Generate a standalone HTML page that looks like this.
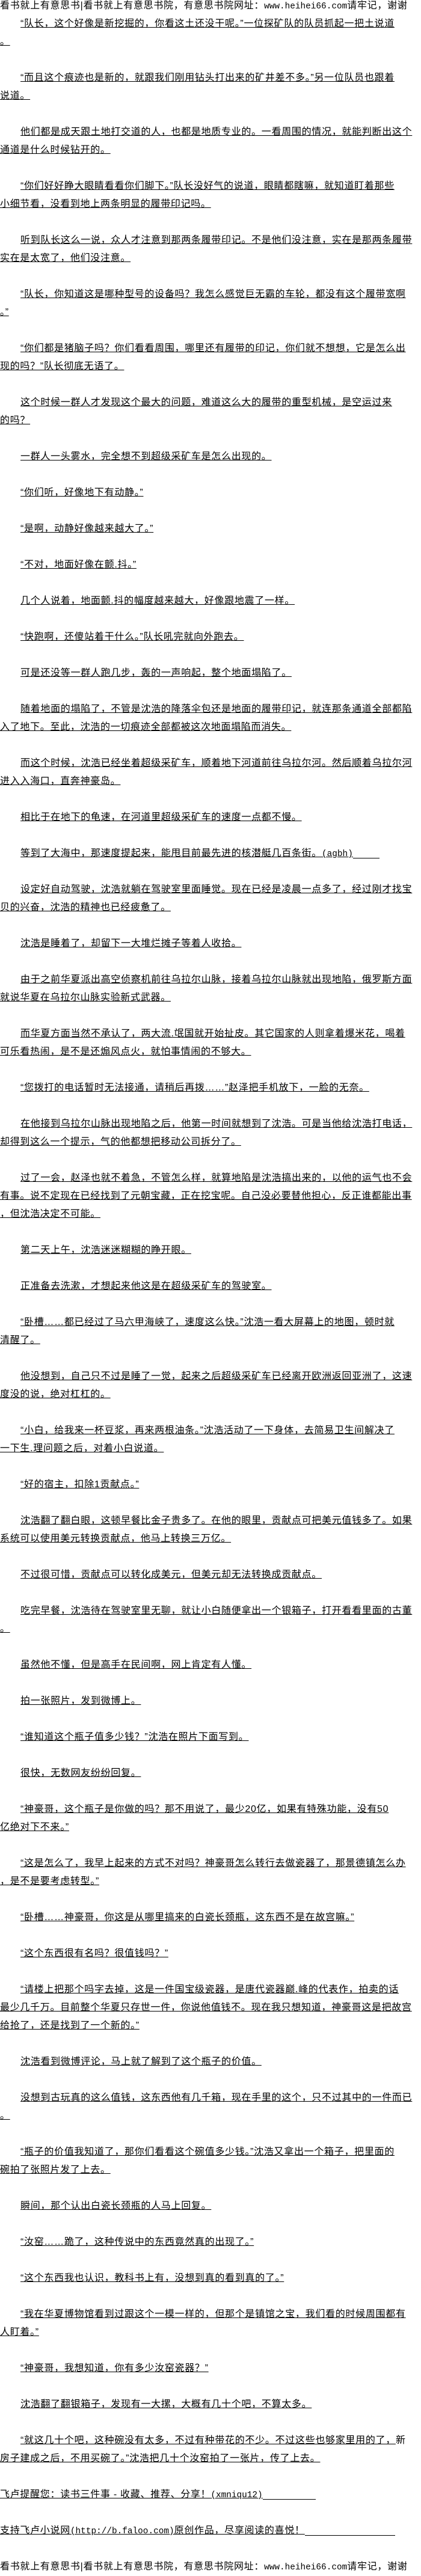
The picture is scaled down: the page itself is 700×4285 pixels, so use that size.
<!DOCTYPE html>
<html><head><meta charset="utf-8">
<style>
html,body{margin:0;padding:0;background:#fff;}
body{width:700px;height:4280px;overflow:hidden;position:relative;}
#c{position:absolute;top:-5px;left:0;width:700px;}
#c div{height:30px;line-height:30px;white-space:nowrap;font-size:16px;letter-spacing:0.7px;color:#000;
font-family:"Liberation Sans","Noto Sans CJK SC","WenQuanYi Zen Hei",sans-serif;overflow:hidden;}
#c div span{text-decoration:underline;}
#c div.i{padding-left:34px;}
.m{font-family:"Liberation Mono",monospace;font-size:14.4px;letter-spacing:0;}
.ext{display:inline-block;height:1px;background:#000;vertical-align:-4px;}
</style></head><body><div id="c">
<div>看书就上有意思书|看书就上有意思书院，有意思书院网址：<span class="m" style="text-decoration:none">www.heihei66.com</span>请牢记，谢谢</div>
<div class="i"><span>“队长，这个好像是新挖掘的，你看这土还没干呢。”一位探矿队的队员抓起一把土说道</span></div>
<div><span>。</span></div>
<div></div>
<div class="i"><span>“而且这个痕迹也是新的，就跟我们刚用钻头打出来的矿井差不多。”另一位队员也跟着</span></div>
<div><span>说道。</span></div>
<div></div>
<div class="i"><span>他们都是成天跟土地打交道的人，也都是地质专业的。一看周围的情况，就能判断出这个</span></div>
<div><span>通道是什么时候钻开的。</span></div>
<div></div>
<div class="i"><span>“你们好好睁大眼睛看看你们脚下。”队长没好气的说道，眼睛都瞎嘛，就知道盯着那些</span></div>
<div><span>小细节看，没看到地上两条明显的履带印记吗。</span></div>
<div></div>
<div class="i"><span>听到队长这么一说，众人才注意到那两条履带印记。不是他们没注意，实在是那两条履带</span></div>
<div><span>实在是太宽了，他们没注意。</span></div>
<div></div>
<div class="i"><span>“队长，你知道这是哪种型号的设备吗？我怎么感觉巨无霸的车轮，都没有这个履带宽啊</span></div>
<div><span>。”</span></div>
<div></div>
<div class="i"><span>“你们都是猪脑子吗？你们看看周围，哪里还有履带的印记，你们就不想想，它是怎么出</span></div>
<div><span>现的吗？”队长彻底无语了。</span></div>
<div></div>
<div class="i"><span>这个时候一群人才发现这个最大的问题，难道这么大的履带的重型机械，是空运过来</span></div>
<div><span>的吗？</span></div>
<div></div>
<div class="i"><span>一群人一头雾水，完全想不到超级采矿车是怎么出现的。</span></div>
<div></div>
<div class="i"><span>“你们听，好像地下有动静。”</span></div>
<div></div>
<div class="i"><span>“是啊，动静好像越来越大了。”</span></div>
<div></div>
<div class="i"><span>“不对，地面好像在颤.抖。”</span></div>
<div></div>
<div class="i"><span>几个人说着，地面颤.抖的幅度越来越大，好像跟地震了一样。</span></div>
<div></div>
<div class="i"><span>“快跑啊，还傻站着干什么。”队长吼完就向外跑去。</span></div>
<div></div>
<div class="i"><span>可是还没等一群人跑几步，轰的一声响起，整个地面塌陷了。</span></div>
<div></div>
<div class="i"><span>随着地面的塌陷了，不管是沈浩的降落伞包还是地面的履带印记，就连那条通道全部都陷</span></div>
<div><span>入了地下。至此，沈浩的一切痕迹全部都被这次地面塌陷而消失。</span></div>
<div></div>
<div class="i"><span>而这个时候，沈浩已经坐着超级采矿车，顺着地下河道前往乌拉尔河。然后顺着乌拉尔河</span></div>
<div><span>进入入海口，直奔神豪岛。</span></div>
<div></div>
<div class="i"><span>相比于在地下的龟速，在河道里超级采矿车的速度一点都不慢。</span></div>
<div></div>
<div class="i"><span>等到了大海中，那速度提起来，能甩目前最先进的核潜艇几百条街。<span class="m">(agbh)</span></span><span class="ext" style="width:44px"></span></div>
<div></div>
<div class="i"><span>设定好自动驾驶，沈浩就躺在驾驶室里面睡觉。现在已经是凌晨一点多了，经过刚才找宝</span></div>
<div><span>贝的兴奋，沈浩的精神也已经疲惫了。</span></div>
<div></div>
<div class="i"><span>沈浩是睡着了，却留下一大堆烂摊子等着人收拾。</span></div>
<div></div>
<div class="i"><span>由于之前华夏派出高空侦察机前往乌拉尔山脉，接着乌拉尔山脉就出现地陷，俄罗斯方面</span></div>
<div><span>就说华夏在乌拉尔山脉实验新式武器。</span></div>
<div></div>
<div class="i"><span>而华夏方面当然不承认了，两大流.氓国就开始扯皮。其它国家的人则拿着爆米花，喝着</span></div>
<div><span>可乐看热闹，是不是还煽风点火，就怕事情闹的不够大。</span></div>
<div></div>
<div class="i"><span>“您拨打的电话暂时无法接通，请稍后再拨……”赵泽把手机放下，一脸的无奈。</span></div>
<div></div>
<div class="i"><span>在他接到乌拉尔山脉出现地陷之后，他第一时间就想到了沈浩。可是当他给沈浩打电话，</span></div>
<div><span>却得到这么一个提示，气的他都想把移动公司拆分了。</span></div>
<div></div>
<div class="i"><span>过了一会，赵泽也就不着急，不管怎么样，就算地陷是沈浩搞出来的，以他的运气也不会</span></div>
<div><span>有事。说不定现在已经找到了元朝宝藏，正在挖宝呢。自己没必要替他担心，反正谁都能出事</span></div>
<div><span>，但沈浩决定不可能。</span></div>
<div></div>
<div class="i"><span>第二天上午，沈浩迷迷糊糊的睁开眼。</span></div>
<div></div>
<div class="i"><span>正准备去洗漱，才想起来他这是在超级采矿车的驾驶室。</span></div>
<div></div>
<div class="i"><span>“卧槽……都已经过了马六甲海峡了，速度这么快。”沈浩一看大屏幕上的地图，顿时就</span></div>
<div><span>清醒了。</span></div>
<div></div>
<div class="i"><span>他没想到，自己只不过是睡了一觉，起来之后超级采矿车已经离开欧洲返回亚洲了，这速</span></div>
<div><span>度没的说，绝对杠杠的。</span></div>
<div></div>
<div class="i"><span>“小白，给我来一杯豆浆，再来两根油条。”沈浩活动了一下身体，去简易卫生间解决了</span></div>
<div><span>一下生.理问题之后，对着小白说道。</span></div>
<div></div>
<div class="i"><span>“好的宿主，扣除1贡献点。”</span></div>
<div></div>
<div class="i"><span>沈浩翻了翻白眼，这顿早餐比金子贵多了。在他的眼里，贡献点可把美元值钱多了。如果</span></div>
<div><span>系统可以使用美元转换贡献点，他马上转换三万亿。</span></div>
<div></div>
<div class="i"><span>不过很可惜，贡献点可以转化成美元，但美元却无法转换成贡献点。</span></div>
<div></div>
<div class="i"><span>吃完早餐，沈浩待在驾驶室里无聊，就让小白随便拿出一个银箱子，打开看看里面的古董</span></div>
<div><span>。</span></div>
<div></div>
<div class="i"><span>虽然他不懂，但是高手在民间啊，网上肯定有人懂。</span></div>
<div></div>
<div class="i"><span>拍一张照片，发到微博上。</span></div>
<div></div>
<div class="i"><span>“谁知道这个瓶子值多少钱？”沈浩在照片下面写到。</span></div>
<div></div>
<div class="i"><span>很快，无数网友纷纷回复。</span></div>
<div></div>
<div class="i"><span>“神豪哥，这个瓶子是你做的吗？那不用说了，最少20亿，如果有特殊功能，没有50</span></div>
<div><span>亿绝对下不来。”</span></div>
<div></div>
<div class="i"><span>“这是怎么了，我早上起来的方式不对吗？神豪哥怎么转行去做瓷器了，那景德镇怎么办</span></div>
<div><span>，是不是要考虑转型。”</span></div>
<div></div>
<div class="i"><span>“卧槽……神豪哥，你这是从哪里搞来的白瓷长颈瓶，这东西不是在故宫嘛。”</span></div>
<div></div>
<div class="i"><span>“这个东西很有名吗？很值钱吗？”</span></div>
<div></div>
<div class="i"><span>“请楼上把那个吗字去掉，这是一件国宝级瓷器，是唐代瓷器巅.峰的代表作，拍卖的话</span></div>
<div><span>最少几千万。目前整个华夏只存世一件，你说他值钱不。现在我只想知道，神豪哥这是把故宫</span></div>
<div><span>给抢了，还是找到了一个新的。”</span></div>
<div></div>
<div class="i"><span>沈浩看到微博评论，马上就了解到了这个瓶子的价值。</span></div>
<div></div>
<div class="i"><span>没想到古玩真的这么值钱，这东西他有几千箱，现在手里的这个，只不过其中的一件而已</span></div>
<div><span>。</span></div>
<div></div>
<div class="i"><span>“瓶子的价值我知道了，那你们看看这个碗值多少钱。”沈浩又拿出一个箱子，把里面的</span></div>
<div><span>碗拍了张照片发了上去。</span></div>
<div></div>
<div class="i"><span>瞬间，那个认出白瓷长颈瓶的人马上回复。</span></div>
<div></div>
<div class="i"><span>“汝窑……跪了，这种传说中的东西竟然真的出现了。”</span></div>
<div></div>
<div class="i"><span>“这个东西我也认识，教科书上有，没想到真的看到真的了。”</span></div>
<div></div>
<div class="i"><span>“我在华夏博物馆看到过跟这个一模一样的，但那个是镇馆之宝，我们看的时候周围都有</span></div>
<div><span>人盯着。”</span></div>
<div></div>
<div class="i"><span>“神豪哥，我想知道，你有多少汝窑瓷器？”</span></div>
<div></div>
<div class="i"><span>沈浩翻了翻银箱子，发现有一大摞，大概有几十个吧，不算太多。</span></div>
<div></div>
<div class="i"><span>“就这几十个吧，这种碗没有太多，不过有种带花的不少。不过这些也够家里用的了，</span>新</div>
<div><span>房子建成之后，不用买碗了。”沈浩把几十个汝窑拍了一张片，传了上去。</span></div>
<div></div>
<div><span>飞卢提醒您：读书三件事 - 收藏、推荐、分享！<span class="m">(xmniqu12)</span></span><span class="ext" style="width:88px"></span></div>
<div></div>
<div><span>支持飞卢小说网<span class="m">(http://b.faloo.com)</span>原创作品，尽享阅读的喜悦！</span><span class="ext" style="width:150px"></span></div>
<div></div>
<div>看书就上有意思书|看书就上有意思书院，有意思书院网址：<span class="m" style="text-decoration:none">www.heihei66.com</span>请牢记，谢谢</div>
</div></body></html>
